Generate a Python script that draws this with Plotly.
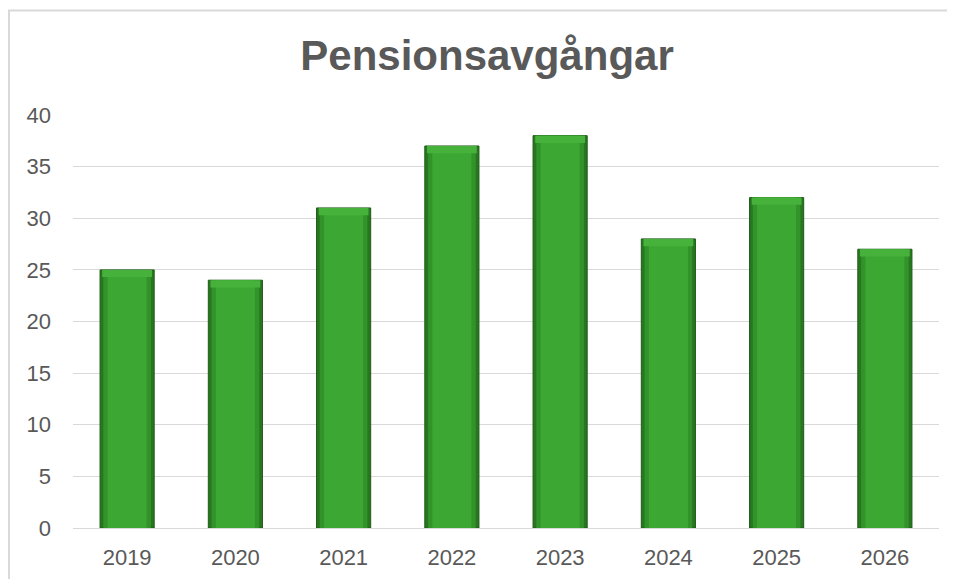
import plotly.graph_objects as go

years = ["2019", "2020", "2021", "2022", "2023", "2024", "2025", "2026"]
values = [25, 24, 31, 37, 38, 28, 32, 27]
y_ticks = [0, 5, 10, 15, 20, 25, 30, 35, 40]

OFF = 8  # page body margin offset
W, H = 955, 579
L, R, T, B = 73 - OFF, 955 - 939 + OFF, 115 - OFF, 579 - 528 + OFF
pw, ph = W - L - R, H - T - B

def px_x(p):
    return (p - OFF - L) / pw

def px_y(p):
    return 1 - (p - OFF - T) / ph

cap = 0.7
cap_base = [v - cap for v in values]

fig = go.Figure()
fig.add_trace(go.Bar(x=years, y=values, width=0.5,
                     marker=dict(color="#27771f", line=dict(color="#1f5a19", width=1)),
                     hoverinfo="x+y"))
fig.add_trace(go.Bar(x=years, y=values, width=0.44,
                     marker=dict(color="#32932a", line=dict(width=0)),
                     hoverinfo="skip"))
fig.add_trace(go.Bar(x=years, y=values, width=0.36,
                     marker=dict(color="#3ca833", line=dict(width=0)),
                     hoverinfo="skip"))
fig.add_trace(go.Bar(x=years, y=[cap] * len(values), base=cap_base, width=0.46,
                     marker=dict(color="#46b23c", line=dict(width=0)),
                     hoverinfo="skip"))

fig.update_layout(
    width=W, height=H,
    margin=dict(l=L, r=R, t=T, b=B),
    paper_bgcolor="white", plot_bgcolor="white",
    barmode="overlay", showlegend=False,
    font=dict(family="Liberation Sans, Arial, sans-serif", color="#595959", size=22),
    title=dict(text="<b>Pensionsavgångar</b>", x=(487 - OFF) / W, xanchor="center",
               y=1 - (55 - OFF) / H, yanchor="middle",
               font=dict(size=42, color="#595959")),
    xaxis=dict(showgrid=False, showline=True, linecolor="#d9d9d9", linewidth=1,
               ticks="", ticklabelstandoff=10, tickfont=dict(size=22, color="#595959")),
    yaxis=dict(range=[0, 40], tickvals=y_ticks, showgrid=True, gridcolor="#d9d9d9",
               gridwidth=1, zeroline=False, showline=False, ticks="",
               ticklabelstandoff=21, tickfont=dict(size=22, color="#595959")),
    shapes=[dict(type="rect", xref="paper", yref="paper",
                 x0=px_x(9), x1=px_x(990), y0=px_y(10.5), y1=px_y(640),
                 line=dict(color="#d9d9d9", width=2), fillcolor="rgba(0,0,0,0)",
                 layer="below")],
)

fig.write_html("out.html")
